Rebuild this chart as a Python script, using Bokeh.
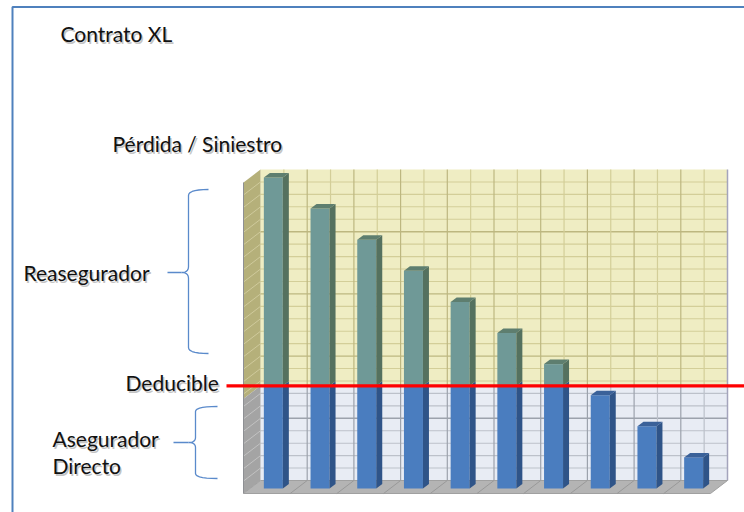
import numpy as np
from bokeh.plotting import figure
from bokeh.models import Range1d, Label
from bokeh.embed import file_html
from bokeh.resources import INLINE

# ---- data -------------------------------------------------------------
categories = list(range(1, 11))
losses = [10, 9, 8, 7, 6, 5, 4, 3, 2, 1]
deductible = 3.3
y_max = 10
major_step = 2
minor_step = 0.4

title_text = "Contrato XL"
axis_title = "Pérdida / Siniestro"
upper_label = "Reasegurador"
line_label = "Deducible"
lower_label = ["Asegurador", "Directo"]

# ---- page geometry ----------------------------------------------------
W, H = 744, 512
WALL_LEFT_PX, WALL_BOTTOM_PX = 260, 480
PX_PER_CAT, PX_PER_UNIT = 46.7, 31.1

x_start = -WALL_LEFT_PX / PX_PER_CAT
x_end = (W - WALL_LEFT_PX) / PX_PER_CAT
y_start = -(H - WALL_BOTTOM_PX) / PX_PER_UNIT
y_end = WALL_BOTTOM_PX / PX_PER_UNIT


def sx(px):
    return x_start + px / PX_PER_CAT


def sy(py):
    return y_end - py / PX_PER_UNIT


# perspective offsets (data units)
WALL_DX, WALL_DY = -17 / PX_PER_CAT, -13 / PX_PER_UNIT     # side wall / floor depth
BAR_OX, BAR_OY = -10.5 / PX_PER_CAT, -8 / PX_PER_UNIT      # bar plane in front of wall
BAR_W = 19 / PX_PER_CAT
BAR_DX, BAR_DY = 6 / PX_PER_CAT, 4.5 / PX_PER_UNIT

n = len(categories)
split = deductible + BAR_OY

p = figure(width=W, height=H, x_range=Range1d(x_start, x_end),
           y_range=Range1d(y_start, y_end), output_backend="svg",
           toolbar_location=None, min_border=0,
           x_axis_location=None, y_axis_location=None)
p.grid.visible = False
p.outline_line_color = None
p.background_fill_color = "white"
p.border_fill_color = "white"

# ---- back wall --------------------------------------------------------
YELLOW, YELLOW_GRID, YELLOW_MAJOR = "#EFEDC3", "#D3CE98", "#BDB780"
GREY, GREY_GRID, GREY_MAJOR = "#E8ECF4", "#BCC1CA", "#9CA2AC"

p.quad(left=0, right=n, bottom=0, top=split, fill_color=GREY, line_color=None)
p.quad(left=0, right=n, bottom=split, top=y_max, fill_color=YELLOW, line_color=None)

levels = np.round(np.arange(minor_step, y_max, minor_step), 6)
for lv in levels:
    is_major = abs(lv / major_step - round(lv / major_step)) < 1e-6
    upper = lv > split
    col = (YELLOW_MAJOR if is_major else YELLOW_GRID) if upper else (GREY_MAJOR if is_major else GREY_GRID)
    p.segment(x0=0, y0=lv, x1=n, y1=lv, line_color=col, line_width=1.4 if is_major else 1.1)

vlines = np.arange(0.5, n, 0.5)
for xv in vlines:
    major = abs(xv - round(xv)) < 1e-6
    p.segment(x0=xv, y0=0, x1=xv, y1=split,
              line_color=GREY_MAJOR if major else GREY_GRID, line_width=1.2)
    p.segment(x0=xv, y0=split, x1=xv, y1=y_max,
              line_color=YELLOW_MAJOR if major else YELLOW_GRID, line_width=1.2)
p.segment(x0=n, y0=0, x1=n, y1=y_max, line_color="#A4A4BC", line_width=1.5)

# ---- side wall --------------------------------------------------------
p.patch([0, 0, WALL_DX, WALL_DX], [split, y_max, y_max + WALL_DY, split + WALL_DY],
        fill_color="#B5B07A", line_color=None)
p.patch([0, 0, WALL_DX, WALL_DX], [0, split, split + WALL_DY, WALL_DY],
        fill_color="#A4A4A4", line_color=None)
for lv in levels:
    col = "#CFCA9C" if lv > split else "#C2C2C2"
    p.segment(x0=0, y0=lv, x1=WALL_DX, y1=lv + WALL_DY, line_color=col, line_width=1)
p.segment(x0=WALL_DX, y0=WALL_DY, x1=WALL_DX, y1=y_max + WALL_DY,
          line_color="#8E9094", line_width=1)

# ---- floor ------------------------------------------------------------
p.patch([0, n, n + WALL_DX, WALL_DX], [0, 0, WALL_DY, WALL_DY],
        fill_color="#B4B4B4", line_color="#A0A0A0", line_width=1)
for xv in range(1, n):
    p.segment(x0=xv, y0=0, x1=xv + WALL_DX, y1=WALL_DY, line_color="#999999", line_width=1)

# ---- bars -------------------------------------------------------------
BLUE_F, BLUE_S, BLUE_T = "#4A7DBF", "#2F5488", "#3A6199"
TEAL_F, TEAL_S, TEAL_T = "#6F9997", "#55715F", "#5E7E6F"

cx = np.arange(n) + 0.5 + BAR_OX
left = cx - BAR_W / 2
right = cx + BAR_W / 2
vals = np.array(losses, dtype=float)
base = np.full(n, BAR_OY)
blue_top = np.minimum(vals, deductible) + BAR_OY
tops = vals + BAR_OY
has_teal = vals > deductible

# front faces
p.quad(left=left, right=right, bottom=base, top=blue_top, fill_color=BLUE_F, line_color=None)
p.quad(left=left[has_teal], right=right[has_teal], bottom=np.full(has_teal.sum(), split),
       top=tops[has_teal], fill_color=TEAL_F, line_color=None)

# side faces
def side(r, y0, y1):
    return [r, r, r + BAR_DX, r + BAR_DX], [y0, y1, y1 + BAR_DY, y0 + BAR_DY]

bxs, bys = zip(*[side(r, b, t) for r, b, t in zip(right, base, blue_top)])
p.patches(list(bxs), list(bys), fill_color=BLUE_S, line_color=None)
txs, tys = zip(*[side(r, split, t) for r, t in zip(right[has_teal], tops[has_teal])])
p.patches(list(txs), list(tys), fill_color=TEAL_S, line_color=None)

# top faces
top_xs = [[l, r, r + BAR_DX, l + BAR_DX] for l, r in zip(left, right)]
top_ys = [[t, t, t + BAR_DY, t + BAR_DY] for t in tops]
top_cols = [TEAL_T if h else BLUE_T for h in has_teal]
p.patches(top_xs, top_ys, fill_color=top_cols, line_color=None)

# ---- deductible line --------------------------------------------------
p.segment(x0=sx(226), y0=split, x1=x_end, y1=split, line_color="#FF0000", line_width=3.2)

# ---- braces -----------------------------------------------------------
def quad_curve(p0, c, p1, k=8):
    t = np.linspace(0, 1, k)[:, None]
    p0, c, p1 = map(np.array, (p0, c, p1))
    return ((1 - t) ** 2 * p0 + 2 * (1 - t) * t * c + t ** 2 * p1).tolist()


def brace(x_stem, y_top, y_bot, x_hook, x_tip, y_mid, x_tail, r=6):
    pts = []
    pts += quad_curve((x_hook, y_top), (x_stem, y_top), (x_stem, y_top + r))
    pts += quad_curve((x_stem, y_mid - r), (x_stem, y_mid), (x_tip, y_mid))
    pts += quad_curve((x_tip, y_mid), (x_stem, y_mid), (x_stem, y_mid + r))
    pts += quad_curve((x_stem, y_bot - r), (x_stem, y_bot), (x_hook, y_bot))
    xs = [sx(a) for a, b in pts]
    ys = [sy(b) for a, b in pts]
    p.line(xs, ys, line_color="#5A8ACB", line_width=1.3)
    p.line([sx(x_tail), sx(x_tip)], [sy(y_mid), sy(y_mid)], line_color="#5A8ACB", line_width=1.3)


brace(188, 189, 353, 208, 181, 272, 167)
brace(195, 406, 478, 217, 188, 442, 173, r=5)

# ---- texts ------------------------------------------------------------
FONT = "Lato"


def text(s, px, py, size="21px"):
    p.add_layout(Label(x=sx(px + 1.5), y=sy(py + 1.5), text=s, text_font=FONT,
                       text_font_size=size, text_color="#8A8A8A", text_alpha=0.5,
                       text_baseline="middle", text_align="left"))
    p.add_layout(Label(x=sx(px), y=sy(py), text=s, text_font=FONT,
                       text_font_size=size, text_color="#111111",
                       text_baseline="middle", text_align="left"))


text(title_text, 60, 33)
text(axis_title, 112, 143)
text(upper_label, 23, 272)
text(line_label, 125, 382)
text(lower_label[0], 52, 438)
text(lower_label[1], 52, 465)

# ---- slide frame ------------------------------------------------------
p.line([sx(12), sx(12), x_end], [y_start, sy(6.5), sy(6.5)], line_color="#4F81BD", line_width=2)

open("out.html", "w").write(file_html(p, INLINE))
